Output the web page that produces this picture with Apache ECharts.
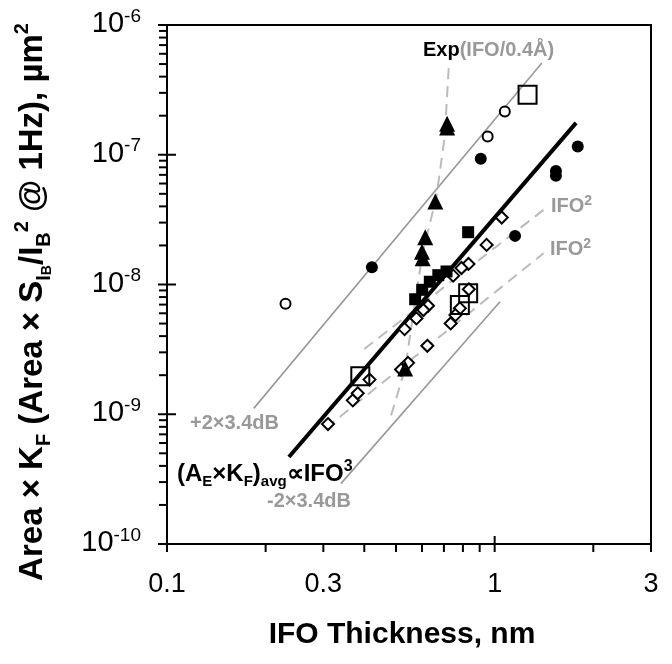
<!DOCTYPE html>
<html><head><meta charset="utf-8">
<script src="https://cdn.jsdelivr.net/npm/echarts@6/dist/echarts.min.js"></script>
<style>html,body{margin:0;padding:0;background:#fff}#c{width:672px;height:664px}</style>
</head><body><div id="c"></div>
<script>
const FONT = '"Liberation Sans", Arial, Helvetica, sans-serif';

// ---- data ----
const openCircleX = [0.230, 0.952, 1.074];
const openCircleY = [7.1e-9, 1.38e-7, 2.15e-7];

const filledCircleX = [0.422, 0.907, 1.154, 1.793, 1.538, 1.538];
const filledCircleY = [1.36e-8, 9.3e-8, 2.37e-8, 1.16e-7, 7.5e-8, 6.9e-8];

const openSquareX = [1.26, 0.389, 0.830, 0.783];
const openSquareY = [2.9e-7, 1.96e-9, 8.55e-9, 6.95e-9];

const triangleX = [0.716, 0.716, 0.659, 0.614, 0.600, 0.603, 0.533];
const triangleY = [1.73e-7, 1.62e-7, 4.36e-8, 2.31e-8, 1.79e-8, 1.59e-8, 2.25e-9];

const filledSquareX = [0.830, 0.572, 0.601, 0.634, 0.673, 0.713];
const filledSquareY = [2.53e-8, 7.7e-9, 9.1e-9, 1.05e-8, 1.18e-8, 1.26e-8];

const diamondX = [1.051, 0.945, 0.832, 0.792, 0.747, 0.626, 0.606, 0.577, 0.531, 0.834,
                  0.783, 0.759, 0.734, 0.623, 0.415, 0.369, 0.382, 0.310, 0.518, 0.544];
const diamondY = [3.28e-8, 2.02e-8, 1.44e-8, 1.34e-8, 1.17e-8, 6.86e-9, 6.36e-9, 5.48e-9, 4.53e-9, 9.18e-9,
                  6.55e-9, 5.81e-9, 5.01e-9, 3.37e-9, 1.85e-9, 1.28e-9, 1.45e-9, 8.4e-10, 2.21e-9, 2.49e-9];

const fitX = [0.2355, 1.772];          const fitY = [4.68e-10, 1.76e-7];
const plusX = [0.184, 1.393];          const plusY = [1.11e-9, 5.1e-7];
const minusX = [0.3395, 1.038];        const minusY = [2.92e-10, 7.36e-9];
const ifo2UpX = [0.400, 1.41];         const ifo2UpY = [3.18e-9, 3.76e-8];
const ifo2LoX = [0.305, 1.41];         const ifo2LoY = [7.8e-10, 1.74e-8];
const expX = [0.483, 0.533, 0.601, 0.664, 0.704, 0.724];
const expY = [9.8e-10, 2.25e-9, 1.69e-8, 4.74e-8, 1.38e-7, 4.67e-7];

const xTickValues = [0.1, 0.3, 1, 3];
const xTickLabels = ['0.1', '0.3', '1', '3'];
const xMajorTicks = [0.1, 1, 3];
const xMinorTicks = [0.2, 0.3, 0.4, 0.5, 0.6, 0.7, 0.8, 0.9, 2];
const yTickValues = [1e-10, 1e-9, 1e-8, 1e-7, 1e-6];
const yTickExps = ['-10', '-9', '-8', '-7', '-6'];
const yMinorMultipliers = [2, 3, 4, 5, 6, 7, 8, 9];

// ---- build ----
const X_MIN = 0.1, X_MAX = 3, Y_MIN = 1e-10, Y_MAX = 1e-6;
const zip = (xs, ys) => xs.map((x, i) => [x, ys[i]]);

const tickData = [];
xMajorTicks.forEach(v => tickData.push([v, Y_MIN, 0]));
xMinorTicks.forEach(v => tickData.push([v, Y_MIN, 1]));
yTickValues.forEach(v => tickData.push([X_MIN, v, 2]));
yTickValues.slice(0, -1).forEach(d => yMinorMultipliers.forEach(m => tickData.push([X_MIN, d * m, 3])));

const labelData = [];
xTickValues.forEach((v, i) => labelData.push([v, Y_MIN, 0, i]));
yTickValues.forEach((v, i) => labelData.push([X_MIN, v, 1, i]));

function rs(size, opts) {
  return Object.assign({fontSize: size, fontFamily: FONT, fontWeight: 'bold', fill: '#000'}, opts || {});
}

function lineSeries(xs, ys, color, width, dashed) {
  return {
    type: 'line', data: zip(xs, ys), showSymbol: false, symbol: 'none', z: 2,
    lineStyle: {color: color, width: width, type: dashed ? [11, 7] : 'solid', cap: 'butt'},
    silent: true, animation: false
  };
}
function scatter(xs, ys, symbol, size, fill, stroke, bw, z) {
  return {
    type: 'scatter', data: zip(xs, ys), symbol: symbol, symbolSize: size, z: z || 5,
    itemStyle: {color: fill, borderColor: stroke, borderWidth: bw, opacity: 1},
    silent: true, animation: false
  };
}

const option = {
  animation: false,
  backgroundColor: '#fff',
  grid: {left: 167, top: 25, right: 21, bottom: 120, show: true, borderColor: '#000', borderWidth: 2, backgroundColor: 'transparent'},
  xAxis: {type: 'log', logBase: 10, min: X_MIN, max: X_MAX, axisLine: {show: false}, axisTick: {show: false}, axisLabel: {show: false}, splitLine: {show: false}},
  yAxis: {type: 'log', logBase: 10, min: Y_MIN, max: Y_MAX, axisLine: {show: false}, axisTick: {show: false}, axisLabel: {show: false}, splitLine: {show: false}},
  series: [
    lineSeries(plusX, plusY, '#999', 1.6, false),
    lineSeries(minusX, minusY, '#999', 1.6, false),
    lineSeries(ifo2UpX, ifo2UpY, '#bbb', 2, true),
    lineSeries(ifo2LoX, ifo2LoY, '#bbb', 2, true),
    lineSeries(expX, expY, '#bbb', 2, true),
    lineSeries(fitX, fitY, '#000', 4, false),
    scatter(diamondX, diamondY, 'diamond', 12, '#fff', '#000', 2, 6),
    scatter(openSquareX, openSquareY, 'rect', 18, 'rgba(0,0,0,0)', '#000', 2, 7),
    scatter(openCircleX, openCircleY, 'circle', 10, '#fff', '#000', 2, 6),
    scatter(filledCircleX, filledCircleY, 'circle', 12, '#000', '#000', 0, 6),
    scatter(filledSquareX, filledSquareY, 'rect', 12, '#000', '#000', 0, 6),
    scatter(triangleX, triangleY, 'triangle', 16, '#000', '#000', 0, 6),
    {
      type: 'custom', data: tickData, clip: false, silent: true, z: 10, animation: false,
      renderItem: function (params, api) {
        const p = api.coord([api.value(0), api.value(1)]);
        const k = api.value(2);
        let s;
        if (k === 0) s = {x1: p[0], y1: p[1] - 8, x2: p[0], y2: p[1] + 8};
        else if (k === 1) s = {x1: p[0], y1: p[1], x2: p[0], y2: p[1] + 8};
        else if (k === 2) s = {x1: p[0] - 9, y1: p[1], x2: p[0] + 9, y2: p[1]};
        else s = {x1: p[0] - 8, y1: p[1], x2: p[0], y2: p[1]};
        return {type: 'line', shape: s, style: {stroke: '#000', lineWidth: 2}};
      }
    },
    {
      type: 'custom', data: labelData, clip: false, silent: true, z: 10, animation: false,
      renderItem: function (params, api) {
        const p = api.coord([api.value(0), api.value(1)]);
        const k = api.value(2), i = api.value(3);
        if (k === 0) {
          return {type: 'text', x: p[0], y: p[1] + 41, style: {text: xTickLabels[i], fontSize: 27, fontFamily: FONT, fill: '#000', align: 'center', verticalAlign: 'middle'}};
        }
        return {type: 'text', x: p[0] - 26, y: p[1] - 1, style: {
          text: '{b|10}{s|' + yTickExps[i] + '}', align: 'right', verticalAlign: 'middle',
          rich: {b: {fontSize: 29, fontFamily: FONT, fill: '#000', lineHeight: 34}, s: {fontSize: 19, fontFamily: FONT, fill: '#000', lineHeight: 18, verticalAlign: 'top'}}
        }};
      }
    }
  ],
  graphic: [
    {type: 'text', x: 402, y: 635, style: {text: 'IFO Thickness, nm', fontSize: 30, fontWeight: 'bold', fontFamily: FONT, fill: '#000', align: 'center', verticalAlign: 'middle'}},
    {type: 'text', x: 33, y: 302, rotation: Math.PI / 2, style: {
      text: '{n|Area × K}{sb|F}{n| (Area × S}{sb|I}{ss|B}{n|/I}{sb|B}{sp|2}{n| @ 1Hz), µm}{sp|2}',
      align: 'center', verticalAlign: 'middle',
      rich: {
        n: rs(33, {lineHeight: 42}),
        sb: rs(20, {lineHeight: 19, verticalAlign: 'bottom'}),
        ss: rs(14, {lineHeight: 12, verticalAlign: 'bottom'}),
        sp: rs(20, {lineHeight: 20, verticalAlign: 'top'})
      }
    }},
    {type: 'text', x: 423, y: 50, style: {
      text: '{k|Exp}{g|(IFO/0.4Å)}', align: 'left', verticalAlign: 'middle',
      rich: {k: rs(20), g: rs(20, {fill: '#999'})}
    }},
    {type: 'text', x: 551, y: 206, style: {
      text: '{g|IFO}{s|2}', align: 'left', verticalAlign: 'middle',
      rich: {g: rs(20, {fill: '#999', lineHeight: 24}), s: rs(14, {fill: '#999', lineHeight: 14, verticalAlign: 'top'})}
    }},
    {type: 'text', x: 550, y: 249, style: {
      text: '{g|IFO}{s|2}', align: 'left', verticalAlign: 'middle',
      rich: {g: rs(20, {fill: '#999', lineHeight: 24}), s: rs(14, {fill: '#999', lineHeight: 14, verticalAlign: 'top'})}
    }},
    {type: 'text', x: 190, y: 423, style: {text: '+2×3.4dB', fontSize: 20, fontWeight: 'bold', fontFamily: FONT, fill: '#999', align: 'left', verticalAlign: 'middle'}},
    {type: 'text', x: 267, y: 501, style: {text: '-2×3.4dB', fontSize: 20, fontWeight: 'bold', fontFamily: FONT, fill: '#999', align: 'left', verticalAlign: 'middle'}},
    {type: 'text', x: 177, y: 474, style: {
      text: '{n|(A}{sb|E}{n|×K}{sb|F}{n|)}{sb|avg}{n|∝IFO}{sp|3}', align: 'left', verticalAlign: 'middle',
      rich: {
        n: rs(24, {lineHeight: 30}),
        sb: rs(15, {lineHeight: 15, verticalAlign: 'bottom'}),
        sp: rs(16, {lineHeight: 16, verticalAlign: 'top'})
      }
    }}
  ]
};

const chart = echarts.init(document.getElementById('c'), null, {renderer: 'canvas'});
chart.setOption(option);
</script>
</body></html>
